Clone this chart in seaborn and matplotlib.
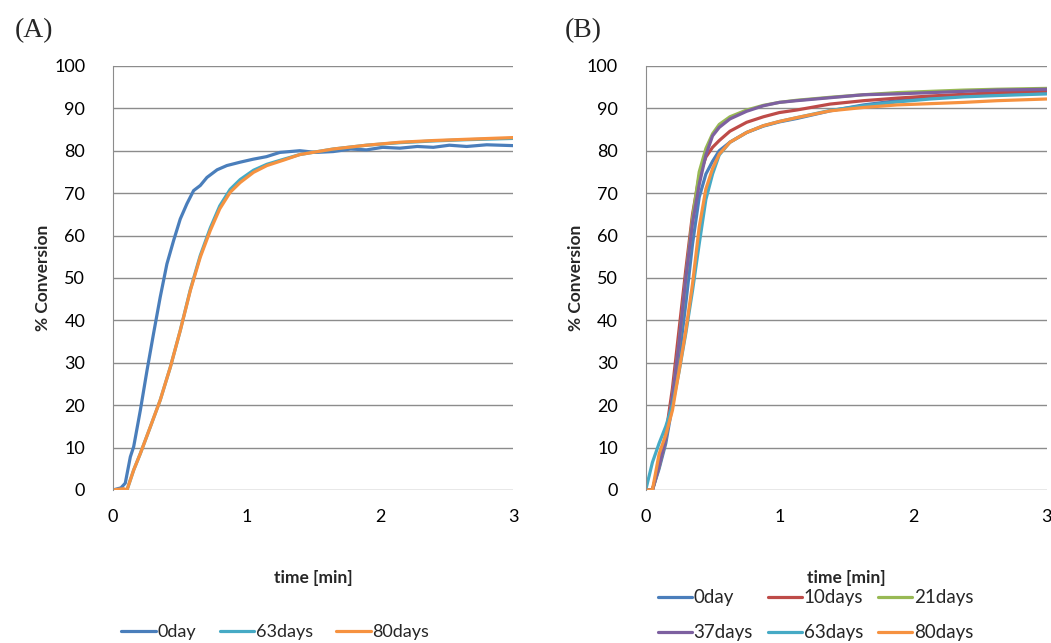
import pandas as pd
import matplotlib.pyplot as plt
import seaborn as sns

# ---- panel A: conversion vs time ----
a_t_0day = [0.0, 0.06, 0.092, 0.13, 0.155, 0.205, 0.255, 0.304, 0.354, 0.404, 0.454, 0.504,
            0.554, 0.604, 0.654, 0.704, 0.78, 0.853, 0.953, 1.05, 1.15, 1.25, 1.40, 1.52,
            1.65, 1.78, 1.90, 2.02, 2.15, 2.28, 2.40, 2.52, 2.65, 2.80, 3.0]
a_y_0day = [0.0, 0.5, 1.6, 7.8, 10.2, 18.8, 28.2, 36.9, 45.5, 53.3, 58.8, 63.9,
            67.5, 70.6, 71.8, 73.7, 75.5, 76.5, 77.3, 78.0, 78.6, 79.6, 80.0, 79.6,
            79.8, 80.4, 80.2, 80.8, 80.6, 81.0, 80.8, 81.3, 81.0, 81.4, 81.2]

a_t_63 = [0.0, 0.105, 0.155, 0.205, 0.28, 0.354, 0.43, 0.504, 0.58, 0.654, 0.729, 0.80,
          0.878, 0.953, 1.053, 1.153, 1.28, 1.40, 1.65, 1.90, 2.15, 2.40, 2.65, 3.0]
a_y_63 = [0.0, 0.0, 4.7, 8.6, 14.9, 21.2, 29.0, 37.6, 47.3, 55.3, 61.8, 67.0,
          70.9, 73.2, 75.4, 76.8, 78.0, 79.1, 80.4, 81.3, 81.9, 82.3, 82.6, 82.9]

a_t_80 = [0.0, 0.08, 0.105, 0.155, 0.205, 0.28, 0.354, 0.43, 0.504, 0.58, 0.654, 0.729, 0.80,
          0.878, 0.953, 1.053, 1.153, 1.28, 1.40, 1.65, 1.90, 2.15, 2.40, 2.65, 3.0]
a_y_80 = [0.0, 0.3, 0.0, 4.7, 8.6, 14.9, 21.2, 29.0, 37.6, 47.1, 54.9, 61.2, 66.3,
          70.2, 72.5, 74.9, 76.5, 77.8, 79.1, 80.4, 81.3, 82.0, 82.4, 82.7, 83.1]

# ---- panel B ----
b_t = [0.0, 0.05, 0.1, 0.15, 0.2, 0.25, 0.3, 0.35, 0.4, 0.45, 0.5, 0.55, 0.63, 0.755,
       0.88, 1.0, 1.13, 1.38, 1.63, 1.88, 2.13, 2.38, 2.63, 3.0]
b_y_0day = [0.0, 0.0, 5.0, 11.0, 20.0, 31.0, 44.0, 58.0, 69.0, 74.5, 77.5, 80.0, 82.0, 84.3,
            85.8, 86.8, 87.6, 89.4, 90.8, 91.8, 92.6, 93.1, 93.4, 93.5]
b_y_10 = [0.0, 0.0, 6.0, 13.0, 24.0, 38.0, 52.0, 65.0, 74.0, 78.5, 80.8, 82.4, 84.6, 86.7,
          88.0, 89.0, 89.6, 91.0, 91.8, 92.4, 92.9, 93.3, 93.7, 94.1]
b_y_21 = [0.0, 0.0, 5.5, 12.0, 22.0, 35.0, 50.0, 64.0, 75.0, 80.5, 84.0, 86.2, 88.0, 89.6,
          90.7, 91.4, 91.9, 92.6, 93.2, 93.7, 94.0, 94.3, 94.5, 94.7]
b_y_37 = [0.0, 0.0, 5.5, 12.0, 22.0, 35.0, 50.0, 63.0, 72.0, 79.0, 83.5, 85.5, 87.5, 89.3,
          90.6, 91.4, 91.8, 92.5, 93.2, 93.4, 93.7, 94.0, 94.3, 94.5]
b_y_63 = [0.0, 6.5, 11.0, 15.0, 20.0, 28.0, 37.0, 47.0, 58.0, 68.5, 74.5, 79.0, 82.0, 84.3,
          85.9, 86.9, 87.8, 89.5, 90.6, 91.5, 92.2, 92.7, 93.0, 93.4]
b_y_80 = [0.0, 0.0, 8.5, 13.0, 18.8, 28.2, 37.6, 48.6, 62.0, 71.0, 75.8, 79.2, 82.0, 84.3,
          85.9, 86.9, 87.8, 89.4, 90.2, 90.8, 91.1, 91.4, 91.8, 92.2]

labels_a = ["0day", "63days", "80days"]
labels_b = ["0day", "10days", "21days", "37days", "63days", "80days"]
colors = {"0day": "#4A7EBB", "10days": "#BE4B48", "21days": "#98B954",
          "37days": "#7D60A0", "63days": "#46AAC5", "80days": "#F69240"}

df_a = pd.concat([
    pd.DataFrame({"time": a_t_0day, "conv": a_y_0day, "series": "0day"}),
    pd.DataFrame({"time": a_t_63, "conv": a_y_63, "series": "63days"}),
    pd.DataFrame({"time": a_t_80, "conv": a_y_80, "series": "80days"}),
])
df_b = pd.concat([
    pd.DataFrame({"time": b_t, "conv": y, "series": s})
    for s, y in zip(labels_b, [b_y_0day, b_y_10, b_y_21, b_y_37, b_y_63, b_y_80])
])

sns.set_style("white")
plt.rcParams["font.family"] = ["Lato", "DejaVu Sans"]

fig = plt.figure(figsize=(10.51, 6.43), dpi=100)
ax_a = fig.add_axes([0.1075, 0.238, 0.381, 0.6595])
ax_b = fig.add_axes([0.6144, 0.238, 0.3815, 0.6595])

lw = 2.3
for ax, df, labels in [(ax_a, df_a, labels_a), (ax_b, df_b, labels_b)]:
    sns.lineplot(data=df, x="time", y="conv", hue="series", hue_order=labels,
                 palette=colors, linewidth=lw, ax=ax, legend=False, sort=False)
    ax.set_xlim(0, 3)
    ax.set_ylim(0, 100)
    ax.set_xticks([0, 1, 2, 3])
    ax.set_yticks(range(0, 101, 10))
    ax.tick_params(axis="both", length=0, labelsize=13, colors="black")
    ax.tick_params(axis="y", pad=20)
    ax.tick_params(axis="x", pad=14)
    ax.yaxis.grid(True, color="#8C8C8C", linewidth=1.0)
    ax.xaxis.grid(False)
    ax.set_axisbelow(True)
    for side in ["top", "right", "bottom"]:
        ax.spines[side].set_visible(False)
    ax.spines["left"].set_color("#8C8C8C")
    ax.set_xlabel("time [min]", fontsize=12.5, fontweight="bold", labelpad=32)
    ax.set_ylabel("% Conversion", fontsize=12.5, fontweight="bold", labelpad=2)

fig.text(0.032, 0.952, "(A)", fontsize=20, family="Liberation Serif", ha="center", va="center")
fig.text(0.555, 0.952, "(B)", fontsize=20, family="Liberation Serif", ha="center", va="center")

handles_a = [plt.Line2D([], [], color=colors[s], linewidth=lw) for s in labels_a]
fig.legend(handles_a, labels_a, loc="center", bbox_to_anchor=(0.262, 0.017), ncol=3,
           frameon=False, fontsize=13, handlelength=1.9, handletextpad=0.1, columnspacing=1.3)

# legend fills column by column, so order the handles to read row by row
order_b = ["0day", "37days", "10days", "63days", "21days", "80days"]
handles_b = [plt.Line2D([], [], color=colors[s], linewidth=lw) for s in order_b]
fig.legend(handles_b, order_b, loc="center", bbox_to_anchor=(0.776, 0.043), ncol=3,
           frameon=False, fontsize=13.5, handlelength=1.8, handletextpad=0.1, columnspacing=0.8,
           labelspacing=0.95)

fig.savefig("out.png", dpi=100)
